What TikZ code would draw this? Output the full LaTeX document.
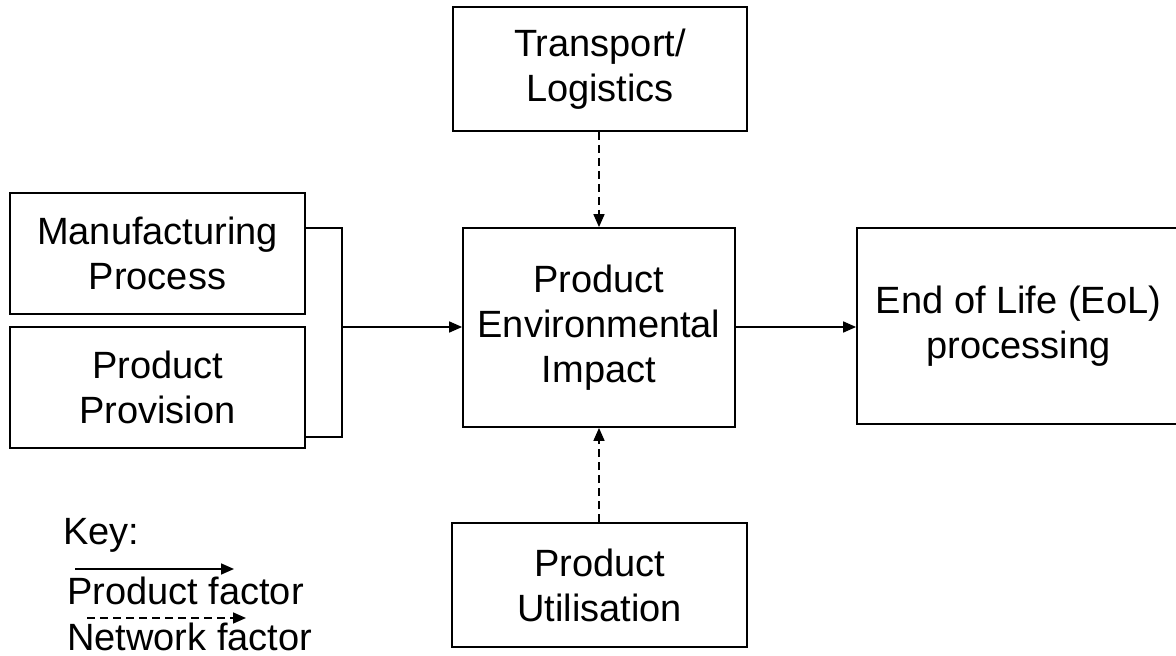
\documentclass[tikz,border=0pt]{standalone}
\usepackage{fontspec}
\setmainfont{Liberation Sans}
\usetikzlibrary{arrows.meta}
\begin{document}
\begin{tikzpicture}[x=1pt,y=-1pt,
  box/.style={draw, line width=1.8pt, inner sep=0pt, align=center, font=\fontsize{38}{45}\selectfont},
  lbl/.style={inner sep=0pt, anchor=base west, font=\fontsize{38}{45}\selectfont},
  conn/.style={line width=1.7pt, -{Triangle[length=13pt,width=11pt]}},
  net/.style={conn, dash pattern=on 8pt off 5pt}]
\useasboundingbox (0,0) rectangle (1176,656);
\fill[white] (0,0) rectangle (1176,656);

\node[box, minimum width=294pt, minimum height=124pt] (trans) at (600,69) {Transport/\\Logistics};
\node[box, minimum width=295pt, minimum height=121pt] (manu) at (157.5,253.5) {Manufacturing\\Process};
\node[box, minimum width=295pt, minimum height=121pt] (prov) at (157.5,387.5) {Product\\Provision};
\node[box, minimum width=272pt, minimum height=199pt] (pei) at (599,327.5) {Product\\Environmental\\Impact};
\node[box, minimum width=323pt, minimum height=196pt] (eol) at (1018.5,326) {End of Life (EoL)\\processing};
\node[box, minimum width=295pt, minimum height=124pt] (util) at (599.5,585) {Product\\Utilisation};

\coordinate (bt) at (342,228);
\coordinate (bb) at (342,437);
\coordinate (j) at (342,327);
\draw[line width=1.7pt] (manu.east |- bt) -- (bt) -- (bb) -- (prov.east |- bb);
\draw[conn] (j) -- (pei.west |- j);
\draw[conn] (pei.east |- j) -- (eol.west |- j);
\draw[net] (pei.north |- trans.south) -- (pei.north);
\draw[net] (pei.south |- util.north) -- (pei.south);

\node[lbl] (key) at (63,544) {Key:};
\coordinate (k1) at (75,569);
\coordinate (k2) at (234,569);
\draw[conn] (k1) -- (k2);
\node[lbl] (pf) at (67,604) {Product factor};
\coordinate (k3) at (87,618);
\coordinate (k4) at (246,618);
\draw[net] (k3) -- (k4);
\node[lbl] (nf) at (67,650) {Network factor};
\end{tikzpicture}
\end{document}
